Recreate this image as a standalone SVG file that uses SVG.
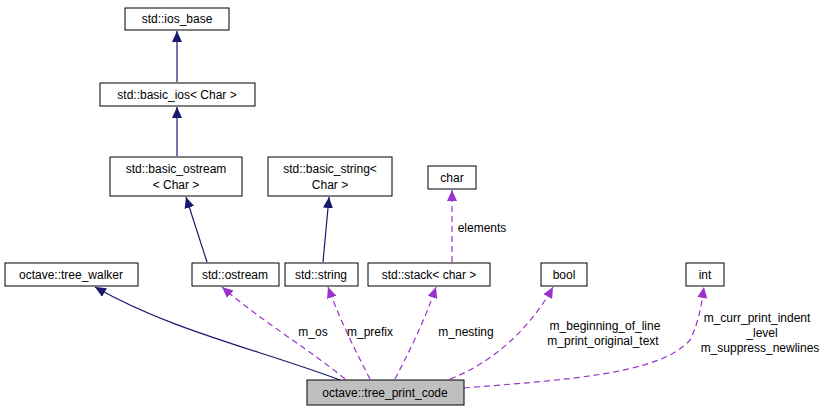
<svg xmlns="http://www.w3.org/2000/svg" width="832" height="412" viewBox="0 0 832 412">
<style>
.n rect{fill:#fff;stroke:#000;stroke-width:1}
text{font-family:"Liberation Sans",Arial,sans-serif;font-size:12px;fill:#000}
.c{text-anchor:middle}
.inh{fill:none;stroke:#191970;stroke-width:1.2}
.use{fill:none;stroke:#9a32cd;stroke-width:1.2;stroke-dasharray:6,4}
</style>
<defs>
<marker id="ai" markerWidth="12" markerHeight="12" refX="11" refY="5" orient="auto" markerUnits="userSpaceOnUse"><path d="M0,0L11,5L0,10z" fill="#191970"/></marker>
<marker id="au" markerWidth="12" markerHeight="12" refX="11" refY="5" orient="auto" markerUnits="userSpaceOnUse"><path d="M0,0L11,5L0,10z" fill="#9a32cd"/></marker>
</defs>
<g id="connectors">
<path class="inh" d="M177,82V31" marker-end="url(#ai)"/>
<path class="inh" d="M177,156V107" marker-end="url(#ai)"/>
<path class="inh" d="M207,262L186,197" marker-end="url(#ai)"/>
<path class="inh" d="M323,262L329,197" marker-end="url(#ai)"/>
<path class="inh" d="M340,380C260,350 170,330 95,287" marker-end="url(#ai)"/>
<path class="use" d="M345,379C310,350 260,320 222,287" marker-end="url(#au)"/>
<path class="use" d="M370,379C355,350 340,320 328,287" marker-end="url(#au)"/>
<path class="use" d="M395,379C410,350 425,320 436,287" marker-end="url(#au)"/>
<path class="use" d="M450,379C500,360 535,320 553,287" marker-end="url(#au)"/>
<path class="use" d="M464,388C560,380 660,375 690,340C700,320 702,300 704,287" marker-end="url(#au)"/>
<path class="use" d="M452,262V190" marker-end="url(#au)"/>
</g>
<g id="ios_base" class="n"><rect x="125" y="8" width="104" height="22"/><text class="c" x="177" y="23">std::ios_base</text></g>
<g id="basic_ios" class="n"><rect x="100" y="83" width="155" height="23"/><text class="c" x="177" y="99">std::basic_ios&lt; Char &gt;</text></g>
<g id="basic_ostream" class="n"><rect x="110" y="157" width="132" height="39"/><text class="c" x="176" y="173">std::basic_ostream</text><text class="c" x="176" y="189">&lt; Char &gt;</text></g>
<g id="basic_string" class="n"><rect x="268" y="157" width="124" height="39"/><text class="c" x="330" y="173">std::basic_string&lt;</text><text class="c" x="330" y="189">Char &gt;</text></g>
<g id="char" class="n"><rect x="428" y="166" width="48" height="23"/><text class="c" x="452" y="182">char</text></g>
<g id="tree_walker" class="n"><rect x="5" y="263" width="133" height="23"/><text class="c" x="71" y="279">octave::tree_walker</text></g>
<g id="ostream" class="n"><rect x="192" y="263" width="87" height="23"/><text class="c" x="235" y="279">std::ostream</text></g>
<g id="string" class="n"><rect x="285" y="263" width="73" height="23"/><text class="c" x="321" y="279">std::string</text></g>
<g id="stack" class="n"><rect x="368" y="263" width="122" height="23"/><text class="c" x="429" y="279">std::stack&lt; char &gt;</text></g>
<g id="bool" class="n"><rect x="541" y="263" width="46" height="23"/><text class="c" x="564" y="279">bool</text></g>
<g id="int" class="n"><rect x="686" y="263" width="38" height="23"/><text class="c" x="705" y="279">int</text></g>
<g id="tree_print_code" class="n"><rect x="307" y="380" width="157" height="25" style="fill:#bfbfbf"/><text class="c" x="385" y="397">octave::tree_print_code</text></g>
<g id="labels">
<text class="c" x="313" y="336">m_os</text>
<text class="c" x="370" y="336">m_prefix</text>
<text class="c" x="466" y="336">m_nesting</text>
<text class="c" x="482" y="232">elements</text>
<text class="c" x="605" y="330">m_beginning_of_line</text>
<text class="c" x="603" y="345">m_print_original_text</text>
<text class="c" x="757" y="322">m_curr_print_indent</text>
<text class="c" x="762" y="337">_level</text>
<text class="c" x="760" y="352">m_suppress_newlines</text>
</g>
</svg>
